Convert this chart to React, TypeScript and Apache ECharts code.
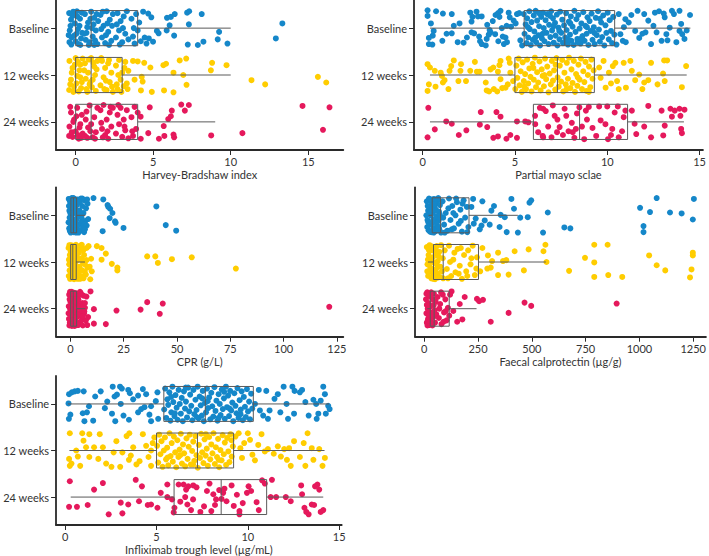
import { useEffect, useRef } from "react";
import * as echarts from "echarts";

type Pt = [number, number];

const categories = ["Baseline", "12 weeks", "24 weeks"];
const groupColors = ["#1587c9", "#ffcd00", "#e5195c"];

// ---------- Harvey-Bradshaw index ----------
const hbiTicks = [0, 5, 10, 15];
const hbiBox = [
  [0, 0, 1, 4, 10],
  [0, 0, 1, 3, 10],
  [0, 0, 1, 4, 9],
];
const hbiBaseline: Pt[] = [
  [-0.42,-0.32],[-0.3,-0.18],[-0.38,0.05],[-0.25,0.2],[-0.4,0.3],[-0.15,-0.35],[-0.05,-0.1],[0.05,0.12],[0.1,-0.25],[0.2,0.34],[0.25,-0.05],[0.35,0.22],[-0.2,-0.26],[0.4,-0.33],[0.15,0.02],[-0.33,-0.05],[0.0,0.28],[0.3,0.36],[-0.1,0.16],[0.42,0.1],[-0.45,0.15],[0.28,-0.2],[0.08,-0.36],[-0.28,0.35],
  [0.6,-0.3],[0.7,0.1],[0.8,-0.12],[0.9,0.3],[1.0,-0.35],[1.1,0.18],[1.2,-0.22],[1.3,0.05],[1.4,0.34],[0.65,0.25],[0.75,-0.02],[0.95,-0.2],[1.05,0.0],[1.15,-0.08],[1.25,0.26],[1.35,-0.3],[0.85,0.36],[1.45,-0.15],[0.55,0.12],[1.2,0.36],
  [1.6,-0.28],[1.7,0.2],[1.8,-0.05],[1.9,0.32],[2.0,-0.36],[2.1,0.08],[2.2,-0.18],[2.3,0.27],[2.4,-0.3],[1.65,0.02],[1.95,0.15],[2.15,0.36],[2.35,-0.05],[1.75,-0.35],[2.05,-0.1],
  [2.6,0.2],[2.7,-0.32],[2.8,0.05],[2.9,-0.15],[3.0,0.3],[3.1,-0.25],[3.2,0.12],[3.3,-0.36],[3.4,0.24],[2.65,-0.08],[3.05,0.0],[2.85,0.35],
  [3.6,-0.2],[3.7,0.18],[3.8,0.33],[3.9,-0.3],[4.0,0.05],[4.1,-0.12],[4.2,0.28],[4.35,-0.35],[3.75,0.0],[4.45,0.2],
  [4.68,-0.31],[4.88,-0.23],[5.35,0.11],[5.24,0.06],[4.72,0.22],[4.57,0.33],[4.99,0.29],[5.89,-0.22],[6.06,-0.06],[6.14,-0.24],[6.39,-0.3],[5.87,0.05],[6.35,0.16],[7.19,-0.33],[7.32,-0.36],[7.3,-0.08],[8.13,-0.3],[7.23,0.35],[8.24,0.29],[7.88,0.36],[9.25,0.08],[9.16,0.24],[9.79,0.33],[13.33,-0.1],[12.91,0.22],
];
const hbiWeek12: Pt[] = [
  [-0.4,-0.3],[-0.3,0.1],[-0.42,0.32],[-0.2,-0.15],[-0.1,0.25],[0.0,-0.36],[0.1,0.02],[0.2,0.35],[0.3,-0.22],[0.4,0.15],[-0.25,-0.05],[0.15,-0.28],[0.35,0.28],[-0.35,0.2],[0.05,0.18],[0.25,-0.1],[-0.15,0.36],[0.45,-0.35],[-0.05,-0.22],[0.3,0.05],
  [0.6,-0.25],[0.7,0.3],[0.8,-0.05],[0.9,0.2],[1.0,-0.36],[1.1,0.1],[1.2,-0.18],[1.3,0.34],[1.4,-0.3],[0.65,0.08],[0.85,-0.33],[1.05,0.26],[1.25,0.0],[1.35,-0.12],[0.75,0.36],[1.15,-0.26],[0.55,-0.1],[0.95,0.15],
  [1.6,0.22],[1.7,-0.3],[1.8,0.05],[1.9,-0.15],[2.0,0.32],[2.1,-0.25],[2.2,0.15],[2.3,-0.05],[2.4,0.36],[1.65,-0.36],[1.95,0.12],[2.15,-0.32],[2.35,0.25],[1.85,0.3],
  [2.6,-0.2],[2.7,0.3],[2.8,-0.32],[2.9,0.1],[3.0,-0.05],[3.1,0.24],[3.2,-0.28],[3.3,0.18],[3.4,-0.09],[2.75,0.0],[2.95,0.36],[3.15,-0.15],[2.65,0.2],[3.35,0.3],
  [4.0,-0.29],[4.42,-0.26],[4.82,-0.16],[4.26,0.04],[4.32,0.14],[4.21,0.33],[4.91,0.36],[5.66,-0.21],[5.83,-0.24],[6.31,-0.05],[5.7,0.33],[6.31,0.37],[6.71,-0.31],[7.13,-0.35],[6.94,0.0],[7.15,0.21],[8.72,-0.1],[8.8,-0.26],[9.73,-0.21],[11.34,0.11],[12.22,0.2],[15.62,0.04],[16.16,0.16],[3.7,-0.3],[3.8,0.1],
];
const hbiWeek24: Pt[] = [
  [-0.4,0.1],[-0.3,-0.2],[-0.42,0.3],[-0.2,0.32],[-0.1,-0.05],[0.0,0.2],[0.1,-0.3],[0.2,0.36],[0.3,0.05],[0.4,-0.15],[-0.25,0.22],[0.15,0.28],[0.35,0.34],[-0.35,-0.32],[0.05,-0.12],[0.25,0.12],[-0.15,0.0],[0.45,0.25],
  [0.6,0.3],[0.7,-0.22],[0.8,0.12],[0.9,-0.35],[1.0,0.05],[1.1,0.33],[1.2,-0.1],[1.3,0.22],[1.4,-0.3],[0.65,-0.05],[0.95,0.2],[1.25,0.36],[0.75,0.34],
  [1.6,-0.25],[1.7,0.15],[1.8,-0.36],[1.9,0.28],[2.0,-0.05],[2.1,0.36],[2.2,-0.2],[2.3,0.1],[2.4,-0.3],[1.75,0.33],[2.05,0.2],[2.25,-0.32],[1.65,0.02],
  [2.6,0.25],[2.7,-0.15],[2.8,0.05],[2.9,-0.3],[3.0,0.32],[3.1,-0.05],[3.2,0.18],[3.3,-0.25],[3.4,0.35],[2.75,-0.36],[3.15,0.1],
  [3.6,-0.1],[3.7,0.3],[3.8,-0.32],[3.9,0.15],[4.0,-0.2],[4.2,0.36],[3.65,0.2],
  [4.78,-0.31],[4.19,-0.11],[4.68,0.24],[5.37,0.36],[5.68,0.09],[5.72,0.3],[5.97,-0.06],[6.14,-0.12],[6.2,-0.24],[6.31,0.27],[6.35,0.33],[6.81,-0.37],[7.04,-0.24],[7.3,-0.36],[8.74,0.29],[10.75,0.24],[14.63,-0.34],[16.37,-0.31],[15.95,0.17],
];

// ---------- Partial mayo score ----------
const mayoTicks = [0, 5, 10, 15];
const mayoBox = [
  [0.4, 5.5, 7.7, 10.4, 14.5],
  [0.4, 5.0, 7.3, 9.3, 14.3],
  [0.4, 6.0, 8.5, 11.1, 14.15],
];
const mayoBaseline: Pt[] = [
  [0.27,-0.38],[0.73,-0.36],[1.1,-0.31],[1.58,-0.3],[0.27,-0.26],[0.6,0.06],[0.55,0.16],[1.07,0.27],[0.34,0.21],[0.34,0.34],[0.53,0.35],[1.69,-0.05],[1.58,0.11],[2.22,0.31],[2.58,-0.33],[2.7,-0.24],[2.65,-0.14],[2.92,-0.35],[3.0,-0.25],[3.2,-0.25],[2.65,0.09],[2.79,0.11],[3.06,0.18],[3.2,0.34],[3.11,0.28],[3.42,0.37],[3.47,0.23],[3.63,0.04],[3.68,0.09],[3.58,0.14],[3.5,-0.07],[3.95,-0.28],[4.09,-0.32],[4.16,-0.24],[4.22,-0.37],[4.29,0.0],[4.34,0.18],[4.49,0.2],[4.57,0.3],[4.4,0.34],[3.93,0.13],[4.66,-0.33],[4.72,-0.23],[4.93,-0.16],[5.04,-0.1],[4.79,-0.03],[5.11,-0.3],[5.23,-0.32],[5.29,0.26],[5.39,0.37],[1.3,0.12],[2.0,-0.1],[0.45,-0.1],[1.9,0.3],[3.8,-0.15],[2.4,0.2],[4.1,0.28],[4.55,-0.05],
  [5.48,-0.3],[5.52,0.12],[5.58,-0.08],[5.63,0.32],[5.66,-0.21],[5.72,0.2],[5.78,-0.36],[5.8,0.02],[5.86,0.36],[5.9,-0.13],[5.97,0.25],[6.02,-0.27],[6.05,0.07],[6.12,-0.37],[6.15,0.3],[6.2,-0.16],[6.27,0.15],[6.31,-0.04],[6.36,0.37],[6.42,-0.24],[6.46,0.22],[6.52,-0.33],[6.56,0.0],[6.6,0.28],[6.66,-0.17],[6.71,0.1],[6.75,-0.3],[6.82,0.34],[6.85,-0.07],[6.92,0.19],[6.96,-0.36],[7.01,0.05],[7.06,-0.21],[7.1,0.31],[7.17,-0.11],[7.2,0.16],[7.27,-0.29],[7.3,0.37],[7.36,-0.01],[7.41,0.24],[7.45,-0.35],[7.51,0.1],[7.56,-0.18],[7.6,0.32],[7.66,-0.06],[7.72,0.2],[7.77,-0.32],[7.8,0.04],[7.87,0.35],[7.92,-0.14],[7.98,0.14],[8.03,-0.25],[8.06,0.27],[8.12,-0.03],[8.18,0.36],[8.22,-0.37],[8.28,0.08],[8.33,-0.19],[8.38,0.23],[8.43,-0.28],[8.5,0.01],[8.55,0.33],[8.6,-0.1],[8.66,0.17],[8.7,-0.34],[8.77,0.27],[8.82,-0.05],[8.88,0.12],[8.93,-0.23],[8.98,0.36],[9.04,-0.15],[9.1,0.06],[9.15,-0.31],[9.2,0.25],[9.27,-0.02],[9.32,0.34],[9.38,-0.22],[9.43,0.15],[9.5,-0.36],[9.55,0.03],[9.6,0.29],[9.67,-0.12],[9.72,0.19],[9.78,-0.27],[9.84,0.37],[9.9,-0.06],[9.95,0.1],[10.02,-0.33],[10.08,0.24],[10.13,-0.17],[10.2,0.06],[10.26,0.32],[10.32,-0.24],[10.38,0.14],
  [6.1,0.2],[6.5,0.12],[6.9,-0.26],[7.4,0.06],[7.7,0.3],[8.0,-0.1],[8.4,0.3],[8.9,-0.02],[9.3,0.1],[6.3,-0.32],[7.1,-0.04],[8.6,0.22],[9.6,-0.2],[5.7,-0.02],[7.9,0.25],
  [10.62,-0.3],[10.71,0.13],[10.84,0.27],[10.98,-0.19],[11.16,-0.12],[11.3,-0.28],[11.51,0.06],[11.64,-0.37],[11.73,0.21],[12.0,-0.3],[12.07,0.09],[12.22,-0.16],[12.37,0.34],[12.58,-0.33],[12.67,0.09],[12.94,0.27],[13.06,-0.31],[13.11,-0.23],[13.2,0.13],[13.38,-0.01],[13.5,-0.37],[13.61,-0.3],[13.74,0.3],[13.91,-0.37],[14.0,-0.09],[14.06,0.13],[14.18,0.23],[14.48,-0.28],[13.91,0.06],[13.26,0.26],[10.5,0.35],[11.0,0.3],[11.9,0.12],[12.5,-0.05],[10.9,-0.02],[12.8,-0.36],[14.3,0.05],
];
const mayoWeek12: Pt[] = [
  [0.27,-0.23],[0.4,-0.16],[0.66,-0.09],[0.27,0.34],[0.34,0.2],[0.98,-0.05],[1.05,0.02],[1.19,0.11],[1.1,0.16],[1.46,-0.09],[1.55,-0.19],[1.69,-0.31],[2.08,-0.23],[2.05,-0.09],[1.94,0.13],[2.35,0.13],[2.58,-0.09],[2.83,-0.28],[2.94,-0.07],[3.08,-0.07],[3.42,0.16],[3.47,0.33],[3.6,0.35],[3.68,-0.12],[3.83,-0.16],[4.08,-0.07],[4.22,0.09],[4.16,-0.21],[4.22,-0.3],[4.31,0.28],[4.49,0.27],[4.61,0.2],[4.66,-0.35],[4.72,-0.26],[4.75,-0.05],[4.9,0.13],[3.86,0.3],[4.04,0.35],[0.7,0.25],[1.4,0.3],
  [5.02,0.3],[5.08,-0.2],[5.13,0.06],[5.2,-0.35],[5.25,0.22],[5.31,-0.08],[5.37,0.36],[5.42,-0.27],[5.48,0.13],[5.55,-0.02],[5.6,0.3],[5.66,-0.33],[5.72,0.18],[5.78,-0.14],[5.84,0.04],[5.9,0.35],[5.96,-0.24],[6.02,0.1],[6.08,-0.37],[6.14,0.26],[6.2,-0.06],[6.26,0.16],[6.33,-0.29],[6.39,0.33],[6.45,-0.12],[6.5,0.02],[6.57,0.24],[6.63,-0.35],[6.69,0.09],[6.75,-0.18],[6.82,0.37],[6.88,-0.03],[6.94,0.2],[7.0,-0.3],[7.06,0.12],[7.12,-0.1],[7.18,0.31],[7.25,-0.36],[7.31,0.05],[7.37,0.25],[7.43,-0.2],[7.5,0.14],[7.56,-0.32],[7.62,0.35],[7.68,-0.05],[7.75,0.2],[7.81,-0.26],[7.87,0.08],[7.93,-0.37],[8.0,0.28],[8.06,-0.12],[8.12,0.17],[8.19,-0.3],[8.25,0.36],[8.31,-0.02],[8.38,0.23],[8.44,-0.22],[8.5,0.1],[8.57,-0.35],[8.63,0.3],[8.7,-0.08],[8.76,0.15],[8.82,-0.28],[8.88,0.34],[8.95,0.0],[9.01,-0.18],[9.08,0.26],[9.14,-0.33],[9.2,0.08],[9.26,-0.1],[5.5,0.25],[6.0,-0.15],[6.6,0.0],[7.2,-0.22],[7.8,0.3],[8.4,0.05],[9.0,0.36],
  [9.56,-0.16],[9.64,0.06],[9.91,0.27],[10.09,-0.05],[10.3,-0.19],[10.44,-0.26],[10.53,0.13],[10.62,0.3],[10.89,-0.26],[11.01,0.27],[11.25,-0.3],[11.33,-0.09],[11.51,0.11],[11.73,-0.01],[12.0,0.16],[12.22,0.11],[12.37,-0.26],[12.72,0.2],[13.08,-0.31],[13.24,-0.31],[13.02,-0.03],[13.11,0.13],[14.04,0.26],[14.27,-0.19],[11.9,0.3],[9.8,-0.3],[10.2,0.18],
];
const mayoWeek24: Pt[] = [
  [0.31,-0.3],[0.27,0.33],[0.66,0.16],[1.28,-0.01],[1.58,0.04],[1.96,0.28],[2.37,0.18],[3.1,0.06],[3.15,-0.21],[3.5,0.11],[3.83,0.34],[4.0,-0.21],[4.08,0.31],[4.22,-0.11],[4.54,0.36],[4.75,0.28],[5.11,-0.01],[5.11,0.34],[5.56,-0.01],[5.73,0.01],
  [6.53,-0.28],[6.67,-0.23],[7.15,-0.13],[7.42,0.11],[7.78,-0.13],[8.08,0.02],[8.13,0.22],[8.22,0.34],[8.36,-0.18],[8.49,-0.31],[8.63,0.1],[8.75,0.37],[8.84,-0.24],[9.2,0.13],[9.56,-0.33],[9.64,-0.03],[10.0,-0.33],[10.04,0.37],[10.27,0.15],[10.57,-0.33],[10.62,0.33],[10.89,-0.1],[10.98,-0.24],[6.09,-0.13],[6.26,0.22],[6.53,0.33],[6.98,0.33],[7.28,0.22],[7.9,0.2],[7.69,-0.28],
  [6.1,0.05],[6.35,-0.3],[6.8,0.1],[7.05,-0.35],[7.6,0.28],[8.3,0.15],[8.9,-0.05],[9.4,0.3],[9.9,0.05],[10.4,-0.2],[10.8,0.2],[6.5,0.3],[7.3,-0.05],[9.0,-0.32],[10.2,0.28],
  [11.33,-0.24],[11.48,0.04],[11.57,0.26],[12.0,0.1],[12.22,-0.34],[12.37,0.33],[12.94,-0.24],[13.03,0.29],[13.11,0.08],[13.42,-0.28],[13.5,-0.11],[13.65,-0.24],[13.91,-0.28],[13.96,-0.13],[14.0,0.15],[14.04,0.24],[14.18,-0.26],
];

// ---------- CRP ----------
const cprTicks = [0, 25, 50, 75, 100, 125];
const cprBox = [
  [0, 0.2, 1.4, 2.9, 7.0],
  [0, 0.1, 1.1, 2.7, 6.8],
  [0, 0.1, 1.3, 2.9, 7.0],
];
const cprBaseline: Pt[] = [
  [-0.8,-0.35],[-0.5,-0.1],[-0.9,0.15],[-0.3,0.33],[0.0,-0.25],[0.3,0.05],[0.6,-0.37],[0.9,0.25],[1.2,-0.15],[1.5,0.36],[1.8,-0.05],[2.1,-0.3],[2.4,0.15],[2.7,0.3],[3.0,-0.22],[3.3,0.02],[-0.6,0.28],[-0.2,-0.3],[0.2,0.2],[0.5,-0.02],[0.8,0.35],[1.1,-0.28],[1.4,0.1],[1.7,-0.36],[2.0,0.25],[2.3,-0.12],[2.6,0.37],[2.9,0.08],[3.2,-0.34],[-0.7,-0.2],[0.1,0.37],[0.4,-0.18],[1.0,0.08],[1.6,0.2],[2.2,0.32],[2.8,-0.08],[-0.4,0.05],[1.3,-0.37],[0.7,0.15],[1.9,-0.25],[3.4,0.3],[-0.1,-0.05],
  [3.7,-0.3],[4.0,0.2],[4.3,-0.1],[4.6,0.33],[4.9,-0.36],[5.2,0.05],[5.5,-0.2],[5.8,0.28],[6.1,-0.05],[6.4,0.36],[6.7,-0.32],[7.0,0.12],[7.3,-0.15],[7.6,0.22],[8.0,-0.25],[8.3,0.08],[3.8,0.37],[4.4,-0.28],[5.0,0.15],[5.6,-0.36],[6.2,0.2],[3.6,0.0],[4.8,-0.05],[6.8,0.3],[7.8,-0.34],
  [10.8,-0.37],[15.4,-0.34],[17.8,-0.18],[18.6,-0.14],[19.7,-0.05],[18.4,0.06],[20.9,0.13],[21.2,0.16],[15.1,0.34],[24.9,0.27],[40.3,-0.19],[44.7,0.21],[49.6,0.33],[17.4,-0.22],
];
const cprWeek12: Pt[] = [
  [-0.9,-0.3],[-0.6,0.05],[-0.8,0.3],[-0.3,-0.15],[0.0,0.2],[0.3,-0.36],[0.6,0.1],[0.9,-0.2],[1.2,0.34],[1.5,-0.05],[1.8,0.22],[2.1,-0.32],[2.4,0.0],[2.7,0.28],[3.0,-0.12],[3.3,0.36],[-0.5,-0.36],[-0.2,0.36],[0.2,0.02],[0.5,0.26],[0.8,-0.33],[1.1,0.12],[1.4,-0.25],[1.7,0.37],[2.0,-0.1],[2.3,0.18],[2.6,-0.37],[2.9,0.1],[3.2,-0.24],[-0.7,-0.05],[0.1,-0.22],[0.4,0.35],[1.0,-0.08],[1.6,-0.35],[2.2,0.3],[2.8,-0.2],[-0.4,0.18],[1.3,0.25],[0.7,-0.12],[1.9,0.06],[3.4,0.15],[-0.1,-0.3],
  [3.7,0.25],[4.0,-0.2],[4.3,0.1],[4.6,-0.34],[4.9,0.3],[5.2,-0.08],[5.5,0.18],[5.8,-0.28],[6.1,0.35],[6.4,-0.15],[6.8,0.05],[7.2,0.27],[7.6,-0.3],[8.0,0.12],[3.9,-0.05],[4.5,0.36],[5.1,-0.36],[5.9,0.02],[3.6,-0.32],
  [5.3,-0.37],[8.5,-0.34],[12.4,-0.34],[14.6,-0.3],[16.6,-0.18],[14.6,-0.05],[19.4,0.04],[9.7,-0.07],[22.0,0.12],[22.0,0.18],[9.3,0.37],[36.0,-0.12],[39.8,-0.12],[41.0,0.02],[47.6,-0.06],[56.9,-0.1],[77.6,0.14],[6.0,-0.25],[7.5,-0.04],[6.7,0.21],[5.7,0.32],[10.0,0.2],[9.0,0.1],
];
const cprWeek24: Pt[] = [
  [-0.9,0.1],[-0.6,-0.3],[-0.8,-0.05],[-0.3,0.3],[0.0,-0.15],[0.3,0.22],[0.6,-0.36],[0.9,0.05],[1.2,0.35],[1.5,-0.2],[1.8,0.12],[2.1,-0.05],[2.4,0.3],[2.7,-0.33],[3.0,0.18],[3.3,-0.1],[-0.5,0.36],[-0.2,-0.36],[0.2,-0.02],[0.5,0.3],[0.8,-0.22],[1.1,-0.08],[1.4,0.2],[1.7,-0.34],[2.0,0.37],[2.3,-0.25],[2.6,0.08],[2.9,0.33],[3.2,-0.3],[-0.7,0.22],[0.1,0.12],[0.4,-0.28],[1.0,0.25],[1.6,0.02],[2.2,-0.15],[2.8,0.0],[-0.4,-0.2],[1.3,-0.32],[0.7,0.37],[1.9,0.25],[3.4,0.15],[-0.1,0.02],
  [3.7,-0.2],[4.0,0.3],[4.3,-0.05],[4.6,0.15],[4.9,-0.33],[5.2,0.25],[5.5,-0.12],[5.8,0.36],[6.1,-0.28],[6.4,0.1],[6.8,-0.02],[7.2,0.25],[3.9,0.1],[4.5,-0.36],[5.1,0.05],[5.9,-0.05],[3.6,0.35],
  [9.4,-0.37],[7.5,-0.26],[11.0,0.01],[21.6,0.04],[7.9,0.35],[11.0,0.32],[16.6,0.33],[32.9,0.02],[36.0,-0.14],[43.3,-0.11],[41.9,0.11],[121.4,-0.04],[6.5,0.06],[5.7,0.16],[6.8,-0.12],[4.8,-0.3],[8.3,0.18],
];

// ---------- Faecal calprotectin ----------
const calproTicks = [0, 250, 500, 750, 1000, 1250];
const calproBox = [
  [20, 37, 76, 208, 435],
  [17, 43, 88, 252, 565],
  [14, 28, 46, 116, 243],
];
const calproBaseline: Pt[] = [
  [12,-0.3],[15,0.1],[18,-0.1],[20,0.32],[22,-0.36],[25,0.2],[28,-0.2],[30,0.0],[33,0.36],[35,-0.28],[38,0.15],[40,-0.05],[42,0.27],[45,-0.35],[48,0.08],[50,-0.15],[53,0.34],[55,-0.25],[58,0.02],[60,0.22],[63,-0.32],[66,0.12],[68,-0.08],[70,0.3],[73,-0.22],[76,0.05],[78,0.37],[14,0.25],[24,-0.05],[32,0.18],[44,0.37],[52,-0.32],[62,0.3],[72,-0.02],[16,-0.2],[27,0.35],[36,-0.12],[46,-0.24],[56,0.16],[65,-0.37],[10,0.0],[19,0.15],[41,0.1],[67,0.26],[30,-0.34],[57,-0.1],
  [85,-0.3],[92,0.2],[100,-0.05],[108,0.33],[115,-0.36],[122,0.1],[130,-0.2],[138,0.28],[145,0.0],[152,-0.28],[160,0.18],[168,-0.12],[175,0.35],[183,-0.32],[190,0.05],[198,-0.18],[205,0.25],[95,0.37],[112,-0.15],[128,0.3],[148,-0.36],[170,0.12],[88,0.05],[135,-0.05],[178,-0.25],[200,0.36],
  [227,-0.35],[239,0.07],[266,0.22],[281,0.11],[312,-0.1],[324,-0.2],[355,-0.01],[374,0.04],[405,-0.35],[417,-0.14],[435,0.37],[497,-0.32],[489,-0.27],[481,0.04],[552,0.37],[574,-0.06],[651,0.26],[679,0.28],[1003,-0.16],[1019,0.23],[1019,0.36],[1080,-0.37],[1049,-0.07],[1142,-0.06],[1196,-0.04],[1253,-0.35],[1248,0.09],[219,-0.18],[258,0.3],[383,0.36],[446,0.05],[304,0.2],[270,-0.3],[230,0.18],[350,0.25],
];
const calproWeek12: Pt[] = [
  [12,-0.32],[15,0.05],[18,0.3],[20,-0.15],[23,0.22],[25,-0.36],[28,0.12],[30,-0.05],[33,0.35],[35,-0.25],[38,0.18],[40,-0.1],[43,0.28],[45,-0.3],[48,0.02],[50,0.37],[53,-0.18],[55,0.15],[58,-0.34],[60,0.25],[63,-0.02],[66,0.33],[70,-0.22],[74,0.1],[78,-0.36],[82,0.2],[86,-0.08],[14,0.2],[22,-0.25],[32,0.0],[42,0.36],[52,-0.28],[62,0.08],[72,0.32],[17,-0.05],[37,-0.33],[47,0.26],[67,-0.12],[88,0.35],
  [95,-0.25],[105,0.15],[115,-0.35],[125,0.3],[135,-0.05],[145,0.22],[155,-0.28],[165,0.08],[175,0.36],[185,-0.15],[195,0.2],[204,-0.25],[215,0.05],[225,-0.35],[235,0.28],[245,-0.1],[110,0.35],[140,-0.2],[170,-0.3],[200,0.3],[120,0.0],[160,0.25],[219,-0.08],[242,0.14],
  [563,-0.37],[554,-0.23],[485,-0.27],[420,-0.23],[381,-0.04],[366,-0.02],[343,-0.2],[343,0.28],[315,-0.02],[296,-0.14],[309,0.12],[293,0.14],[463,0.18],[392,0.27],[568,0.0],[673,0.19],[747,-0.09],[790,-0.37],[852,-0.37],[790,0.01],[790,0.32],[855,0.28],[920,0.32],[1045,-0.14],[1080,0.07],[1120,0.18],[1248,-0.2],[1248,-0.14],[1242,0.16],[1235,0.33],[270,-0.3],[260,0.2],
];
const calproWeek24: Pt[] = [
  [8,-0.2],[10,0.1],[12,0.3],[14,-0.35],[16,0.0],[18,0.22],[20,-0.12],[22,0.35],[24,-0.28],[26,0.15],[28,-0.05],[30,0.28],[32,-0.35],[35,0.08],[38,0.36],[40,-0.2],[42,0.18],[45,-0.32],[48,0.03],[50,0.3],[53,-0.15],[56,0.12],[10,-0.32],[15,0.36],[20,0.05],[25,0.25],[30,-0.25],[12,-0.08],[18,-0.3],[22,0.15],[34,0.32],[44,-0.08],[27,0.33],[17,0.25],
  [62,-0.25],[68,0.2],[74,-0.1],[80,0.33],[86,-0.3],[92,0.08],[98,-0.2],[104,0.25],[110,-0.02],[116,0.15],[70,0.0],[90,0.28],[100,0.05],[78,-0.35],
  [127,-0.37],[188,-0.25],[245,-0.21],[255,-0.16],[273,-0.19],[466,-0.13],[497,-0.06],[392,0.09],[177,0.23],[153,0.28],[894,-0.11],[135,0.05],[120,-0.3],[165,-0.1],[309,0.28],
];

// ---------- Infliximab trough level ----------
const ifxTicks = [0, 5, 10, 15];
const ifxBox = [
  [0.15, 5.4, 7.67, 10.3, 14.45],
  [0.23, 5.0, 7.24, 9.22, 14.2],
  [0.3, 5.96, 8.54, 11.03, 14.13],
];
const ifxBaseline: Pt[] = [
  [0.21,-0.21],[0.36,-0.25],[0.52,-0.27],[0.69,-0.28],[1.01,-0.27],[0.18,-0.01],[0.28,0.23],[0.2,0.32],[0.96,0.2],[1.05,0.37],[1.19,0.18],[1.53,0.36],[1.64,-0.16],[1.94,-0.27],[2.17,0.09],[2.6,-0.37],[2.7,-0.16],[3.0,-0.37],[3.1,-0.33],[2.83,-0.2],[3.04,0.0],[3.45,-0.3],[3.54,-0.23],[3.72,-0.1],[3.99,-0.18],[4.16,0.11],[4.34,0.07],[4.25,-0.32],[4.43,-0.21],[4.61,0.23],[4.7,0.05],[4.96,-0.06],[5.05,-0.25],[5.09,0.32],[2.56,0.21],[2.74,0.37],[3.19,0.25],[3.49,0.34],[3.99,0.18],[4.7,0.37],[1.3,0.05],[2.3,-0.05],
  [5.42,0.12],[5.47,-0.33],[5.53,0.3],[5.59,-0.1],[5.64,0.02],[5.7,-0.25],[5.76,0.36],[5.81,0.18],[5.87,-0.37],[5.92,-0.04],[5.98,0.26],[6.04,-0.19],[6.1,0.08],[6.15,0.34],[6.21,-0.3],[6.27,0.0],[6.33,0.21],[6.38,-0.13],[6.44,0.37],[6.5,-0.27],[6.56,0.1],[6.61,-0.05],[6.67,0.29],[6.73,-0.35],[6.79,0.16],[6.84,-0.2],[6.9,0.04],[6.96,0.35],[7.02,-0.3],[7.07,0.22],[7.13,-0.09],[7.19,0.13],[7.25,-0.37],[7.3,0.31],[7.36,-0.16],[7.42,0.03],[7.48,0.25],[7.53,-0.28],[7.59,0.37],[7.65,-0.02],[7.71,0.18],[7.76,-0.33],[7.82,0.09],[7.88,-0.14],[7.94,0.33],[8.0,-0.24],[8.05,0.05],[8.11,0.27],[8.17,-0.36],[8.23,0.15],[8.28,-0.07],[8.34,0.36],[8.4,-0.21],[8.46,0.0],[8.51,0.24],[8.57,-0.31],[8.63,0.11],[8.69,-0.12],[8.74,0.32],[8.8,-0.37],[8.86,0.07],[8.92,-0.18],[8.97,0.26],[9.03,-0.28],[9.09,0.14],[9.15,-0.03],[9.2,0.37],[9.26,-0.23],[9.32,0.04],[9.38,0.2],[9.43,-0.34],[9.49,0.3],[9.55,-0.08],[9.61,0.12],[9.66,-0.27],[9.72,0.35],[9.78,-0.15],[9.84,0.06],[9.89,0.28],[9.95,-0.32],[10.01,0.16],[10.07,-0.05],[10.12,0.33],[10.18,-0.22],[10.24,0.1],[6.0,0.2],[6.6,-0.35],[7.2,0.28],[7.8,-0.06],[8.4,0.3],[9.0,0.1],[9.6,0.22],[7.5,-0.12],[8.7,-0.26],[5.8,-0.15],
  [10.39,0.0],[10.66,0.14],[10.84,0.25],[11.01,-0.28],[11.19,0.14],[11.46,-0.11],[11.64,-0.21],[11.78,0.18],[11.96,-0.37],[12.12,0.0],[12.44,-0.37],[12.56,-0.28],[12.53,0.21],[12.85,-0.25],[12.97,-0.3],[13.15,-0.04],[13.33,0.25],[13.59,-0.09],[13.74,0.0],[13.86,0.21],[14.13,-0.37],[14.22,-0.21],[14.4,0.04],[14.48,0.11],[14.27,0.21],[13.99,-0.07],[13.77,0.32],[11.1,0.32],[12.2,0.32],[10.6,-0.3],
];
const ifxWeek12: Pt[] = [
  [0.25,-0.37],[0.93,-0.37],[1.32,-0.35],[1.0,-0.21],[1.14,-0.07],[0.6,0.0],[0.69,0.13],[0.21,0.18],[0.34,0.28],[0.25,0.33],[0.82,0.33],[1.32,0.14],[1.58,-0.07],[1.81,0.18],[2.06,-0.07],[2.24,0.28],[2.53,0.35],[2.65,0.04],[3.01,0.35],[3.13,0.04],[3.36,-0.31],[3.51,-0.37],[3.49,0.2],[3.59,0.11],[3.72,-0.07],[3.9,0.3],[4.07,0.23],[4.25,-0.35],[4.43,-0.1],[4.56,0.14],[4.7,0.0],[4.79,-0.16],[4.7,0.33],[4.88,-0.28],[1.89,-0.35],[2.8,-0.2],
  [5.03,-0.1],[5.09,0.26],[5.15,-0.34],[5.21,0.08],[5.27,-0.2],[5.33,0.35],[5.4,0.0],[5.46,-0.28],[5.52,0.19],[5.58,-0.06],[5.64,0.32],[5.71,-0.37],[5.77,0.12],[5.83,-0.16],[5.89,0.24],[5.95,-0.3],[6.02,0.04],[6.08,0.36],[6.14,-0.22],[6.2,0.14],[6.26,-0.02],[6.33,-0.36],[6.39,0.28],[6.45,-0.13],[6.51,0.06],[6.57,0.34],[6.64,-0.26],[6.7,0.18],[6.76,-0.08],[6.82,-0.34],[6.88,0.3],[6.95,0.01],[7.01,-0.19],[7.07,0.22],[7.13,-0.31],[7.19,0.1],[7.26,0.37],[7.32,-0.12],[7.38,0.16],[7.44,-0.36],[7.5,0.04],[7.57,0.27],[7.63,-0.24],[7.69,0.11],[7.75,-0.04],[7.81,0.33],[7.88,-0.29],[7.94,0.19],[8.0,-0.13],[8.06,0.06],[8.12,-0.37],[8.19,0.29],[8.25,-0.07],[8.31,0.14],[8.37,-0.25],[8.43,0.36],[8.5,-0.01],[8.56,0.21],[8.62,-0.33],[8.68,0.08],[8.74,-0.17],[8.81,0.31],[8.87,-0.27],[8.93,0.02],[8.99,0.25],[9.05,-0.35],[9.12,0.13],[9.18,-0.09],[5.6,0.15],[6.3,0.1],[7.0,0.3],[7.7,-0.35],[8.4,0.2],[9.1,-0.22],
  [9.32,-0.3],[9.5,-0.37],[9.59,-0.05],[9.68,0.16],[9.8,-0.16],[10.0,-0.37],[10.12,-0.23],[10.25,0.09],[10.39,0.21],[10.57,-0.12],[10.75,-0.35],[10.93,0.02],[11.1,-0.03],[11.42,0.07],[11.64,-0.09],[11.81,0.13],[11.99,-0.03],[12.14,0.2],[12.26,-0.05],[12.35,0.33],[12.53,-0.2],[12.85,0.14],[13.06,-0.16],[13.15,0.33],[13.27,-0.37],[13.5,-0.05],[13.59,0.2],[13.91,-0.03],[14.22,0.16],[14.09,0.33],
];
const ifxWeek24: Pt[] = [
  [0.25,-0.34],[0.21,0.21],[0.64,0.21],[1.23,0.17],[1.58,-0.16],[2.06,-0.3],[2.38,0.37],[3.04,0.12],[3.13,0.35],[3.45,0.16],[3.86,-0.37],[4.2,-0.23],[4.04,0.09],[4.52,0.17],[4.7,0.16],[5.05,0.23],[5.23,-0.09],[5.59,-0.27],[5.59,0.0],[5.85,0.05],[5.98,0.23],[5.94,0.33],
  [6.21,-0.27],[6.48,-0.27],[6.62,-0.16],[6.74,-0.23],[7.01,-0.25],[7.19,-0.21],[6.57,0.0],[6.69,0.16],[6.89,0.28],[7.4,0.32],[7.76,-0.13],[7.9,-0.29],[8.11,-0.06],[8.26,0.05],[8.2,0.17],[8.43,-0.15],[8.56,0.04],[8.65,-0.09],[8.72,-0.18],[8.83,0.09],[9.11,-0.25],[9.23,0.19],[9.54,0.3],[9.54,0.37],[9.72,0.13],[9.95,-0.09],[10.04,-0.23],[10.18,-0.13],[10.48,0.11],[10.78,-0.36],[10.93,-0.29],[6.3,0.1],[7.0,0.05],[7.6,0.2],[8.0,0.3],[9.4,-0.05],[10.6,0.28],
  [11.25,0.0],[11.32,-0.37],[11.55,0.0],[12.08,0.0],[12.35,0.09],[12.92,-0.25],[12.97,-0.06],[13.1,0.23],[13.2,0.32],[13.33,0.37],[13.5,0.16],[13.68,-0.23],[13.81,-0.27],[13.91,-0.16],[13.99,0.32],[14.13,0.28],[13.63,0.17],
];

const panels = [
  { name: "Harvey-Bradshaw index", groups: [hbiBaseline, hbiWeek12, hbiWeek24], box: hbiBox, ticks: hbiTicks, min: -1.26, max: 17.26,
    grid: { left: 49, top: -1, width: 294.3, height: 151 } },
  { name: "Partial mayo sclae", groups: [mayoBaseline, mayoWeek12, mayoWeek24], box: mayoBox, ticks: mayoTicks, min: -0.465, max: 15.18,
    grid: { left: 414, top: -1, width: 292.7, height: 151 } },
  { name: "CPR (g/L)", groups: [cprBaseline, cprWeek12, cprWeek24], box: cprBox, ticks: cprTicks, min: -6.73, max: 128.0,
    grid: { left: 49, top: 187.3, width: 294.3, height: 149.4 } },
  { name: "Faecal calprotectin (\u00b5g/g)", groups: [calproBaseline, calproWeek12, calproWeek24], box: calproBox, ticks: calproTicks, min: -43, max: 1309,
    grid: { left: 415, top: 187.3, width: 291.7, height: 149.4 } },
  { name: "Infliximab trough level (\u00b5g/mL)", groups: [ifxBaseline, ifxWeek12, ifxWeek24], box: ifxBox, ticks: ifxTicks, min: -0.5, max: 15.14,
    grid: { left: 49.3, top: 376, width: 292.4, height: 149 } },
];

const AXIS_COLOR = "#2a2a2a";
const TEXT_COLOR = "#333333";
const BOX_COLOR = "#5a5a5a";
const FONT = "Lato, 'Noto Sans', sans-serif";
const FONT_SIZE = 11;

function renderBox(_params: any, api: any) {
  const lo = api.value(0), q1 = api.value(1), med = api.value(2), q3 = api.value(3), hi = api.value(4), c = api.value(5);
  const h = 0.375;
  const a = api.coord([q1, c - h]);
  const b = api.coord([q3, c + h]);
  const m1 = api.coord([med, c - h]);
  const m2 = api.coord([med, c + h]);
  const l = api.coord([lo, c]);
  const r = api.coord([hi, c]);
  const ql = api.coord([q1, c]);
  const qr = api.coord([q3, c]);
  const style = { stroke: BOX_COLOR, lineWidth: 1, fill: "rgba(0,0,0,0)" };
  return {
    type: "group",
    children: [
      { type: "line", shape: { x1: l[0], y1: l[1], x2: ql[0], y2: ql[1] }, style },
      { type: "line", shape: { x1: qr[0], y1: qr[1], x2: r[0], y2: r[1] }, style },
      { type: "rect", shape: { x: Math.min(a[0], b[0]), y: Math.min(a[1], b[1]), width: Math.abs(b[0] - a[0]), height: Math.abs(b[1] - a[1]) }, style },
      { type: "line", shape: { x1: m1[0], y1: m1[1], x2: m2[0], y2: m2[1] }, style },
    ],
  };
}

function buildOption() {
  const grid: any[] = [];
  const xAxis: any[] = [];
  const yAxis: any[] = [];
  const series: any[] = [];
  panels.forEach((p, i) => {
    grid.push({ ...p.grid, containLabel: false });
    xAxis.push({
      type: "value", gridIndex: i, min: p.min, max: p.max,
      name: p.name, nameLocation: "middle", nameGap: 19,
      nameTextStyle: { fontFamily: FONT, fontSize: FONT_SIZE, color: TEXT_COLOR },
      axisLine: { show: true, onZero: false, lineStyle: { color: AXIS_COLOR, width: 1.8 } },
      axisTick: { show: true, customValues: p.ticks, length: 5, lineStyle: { color: AXIS_COLOR, width: 1 } },
      axisLabel: { show: true, customValues: p.ticks, margin: 6, fontFamily: FONT, fontSize: FONT_SIZE, color: TEXT_COLOR,
        formatter: (v: number) => String(v) },
      splitLine: { show: false },
    });
    yAxis.push({
      type: "value", gridIndex: i, min: -0.6, max: 2.6, inverse: true,
      axisLine: { show: true, onZero: false, lineStyle: { color: AXIS_COLOR, width: 1.8 } },
      axisTick: { show: true, customValues: [0, 1, 2], length: 5, lineStyle: { color: AXIS_COLOR, width: 1 } },
      axisLabel: { show: true, customValues: [0, 1, 2], margin: 7, fontFamily: FONT, fontSize: FONT_SIZE, color: TEXT_COLOR,
        formatter: (v: number) => categories[Math.round(v)] ?? "" },
      splitLine: { show: false },
    });
    p.groups.forEach((pts, gi) => {
      series.push({
        type: "scatter", xAxisIndex: i, yAxisIndex: i, symbol: "circle", symbolSize: 6, z: 2,
        itemStyle: { color: groupColors[gi], opacity: 1 },
        data: pts.map(([x, dy]) => [x, gi + dy]),
        silent: true,
      });
    });
    series.push({
      type: "custom", xAxisIndex: i, yAxisIndex: i, z: 5, silent: true,
      renderItem: renderBox,
      encode: { x: [0, 1, 2, 3, 4], y: 5 },
      data: p.box.map((b, gi) => [...b, gi]),
    });
  });
  return {
    animation: false,
    backgroundColor: "#ffffff",
    textStyle: { fontFamily: FONT },
    grid, xAxis, yAxis, series,
  };
}

export default function App() {
  const ref = useRef<HTMLDivElement>(null);
  useEffect(() => {
    if (!ref.current) return;
    const chart = echarts.init(ref.current, undefined, { renderer: "svg" });
    chart.setOption(buildOption() as any);
    return () => chart.dispose();
  }, []);
  return <div ref={ref} style={{ position: "absolute", left: 0, top: 0, width: 709, height: 556 }} />;
}
